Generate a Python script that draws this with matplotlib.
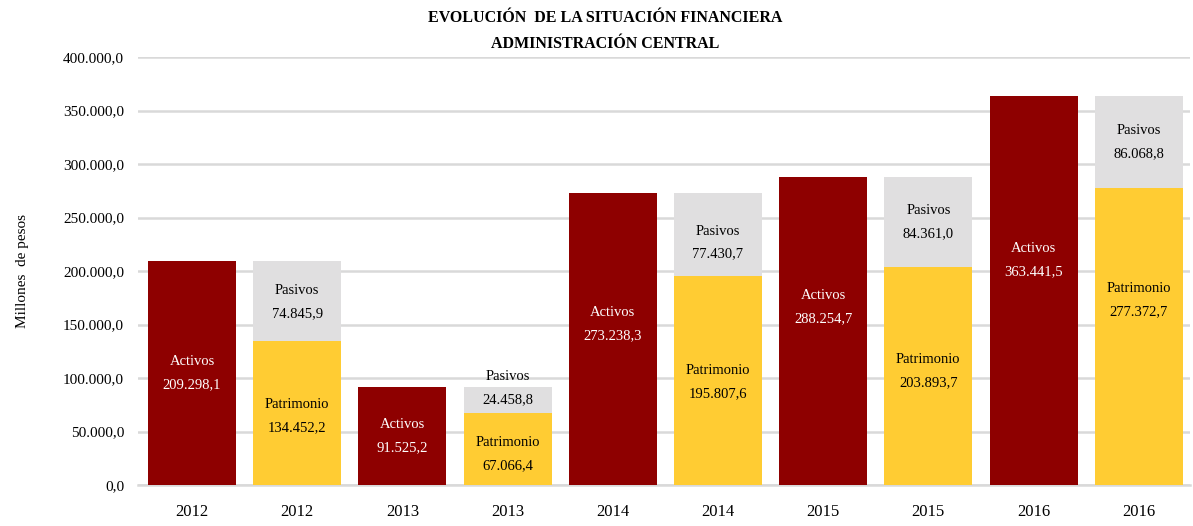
import matplotlib.pyplot as plt

# data (millones de pesos)
years = ['2012', '2012', '2013', '2013', '2014', '2014', '2015', '2015', '2016', '2016']
activos = [209298.1, 91525.2, 273238.3, 288254.7, 363441.5]
patrimonio = [134452.2, 67066.4, 195807.6, 203893.7, 277372.7]
pasivos = [74845.9, 24458.8, 77430.7, 84361.0, 86068.8]

# label anchor heights as placed in the original chart
activos_lab_y = [104700, 45800, 150500, 166400, 210300]
patrimonio_lab_y = [64500, 29000, 96300, 106500, 172900]
pasivos_lab_y = [171000, 90700, 226600, 245800, 320600]

def fmt(v):
    s = f'{v:,.1f}'
    return s.replace(',', 'X').replace('.', ',').replace('X', '.')

plt.rcParams['font.family'] = ['Liberation Serif', 'DejaVu Serif']

c_act = '#8E0000'
c_pat = '#FFCC33'
c_pas = '#E0DFE0'

fig = plt.figure(figsize=(11.93, 5.26), dpi=100)
ax = fig.add_axes([0.1157, 0.0779, 0.882, 0.8137])

w = 0.837
act_x = [2 * i for i in range(len(activos))]
fin_x = [2 * i + 1 for i in range(len(activos))]

ax.bar(act_x, activos, width=w, color=c_act, zorder=3)
ax.bar(fin_x, patrimonio, width=w, color=c_pat, zorder=3)
ax.bar(fin_x, pasivos, width=w, bottom=patrimonio, color=c_pas, zorder=3)

fs = 10.5
for i in range(len(activos)):
    ax.text(act_x[i], activos_lab_y[i], 'Activos\n' + fmt(activos[i]), ha='center', va='center',
            color='white', fontsize=fs, linespacing=2.0, zorder=4)
    ax.text(fin_x[i], patrimonio_lab_y[i], 'Patrimonio\n' + fmt(patrimonio[i]), ha='center', va='center',
            color='black', fontsize=fs, linespacing=2.0, zorder=4)
    ax.text(fin_x[i], pasivos_lab_y[i], 'Pasivos\n' + fmt(pasivos[i]), ha='center', va='center',
            color='black', fontsize=fs, linespacing=2.0, zorder=4)

ax.set_ylim(0, 400000)
ax.set_xlim(-0.514, 9.49)
yt = list(range(0, 400001, 50000))
ax.set_yticks(yt)
ax.set_yticklabels([fmt(v) for v in yt], fontsize=11)
ax.set_xticks(range(len(years)))
ax.set_xticklabels(years, fontsize=12)
ax.tick_params(length=0)
ax.tick_params(axis='y', pad=10)
ax.tick_params(axis='x', pad=14)
ax.grid(axis='y', color='#D9D9D9', linewidth=1.8, zorder=0)
for s in ['top', 'right', 'left']:
    ax.spines[s].set_visible(False)
ax.spines['bottom'].set_color('#D9D9D9')
ax.spines['bottom'].set_linewidth(1.8)

fig.text(0.019, 0.485, 'Millones  de pesos', rotation=90, ha='center', va='center', fontsize=11)
fig.text(0.507, 0.966, 'EVOLUCIÓN  DE LA SITUACIÓN FINANCIERA', ha='center', va='center',
         fontsize=11.5, fontweight='bold')
fig.text(0.507, 0.917, 'ADMINISTRACIÓN CENTRAL', ha='center', va='center',
         fontsize=11.5, fontweight='bold')

fig.savefig('out.png', dpi=100)
